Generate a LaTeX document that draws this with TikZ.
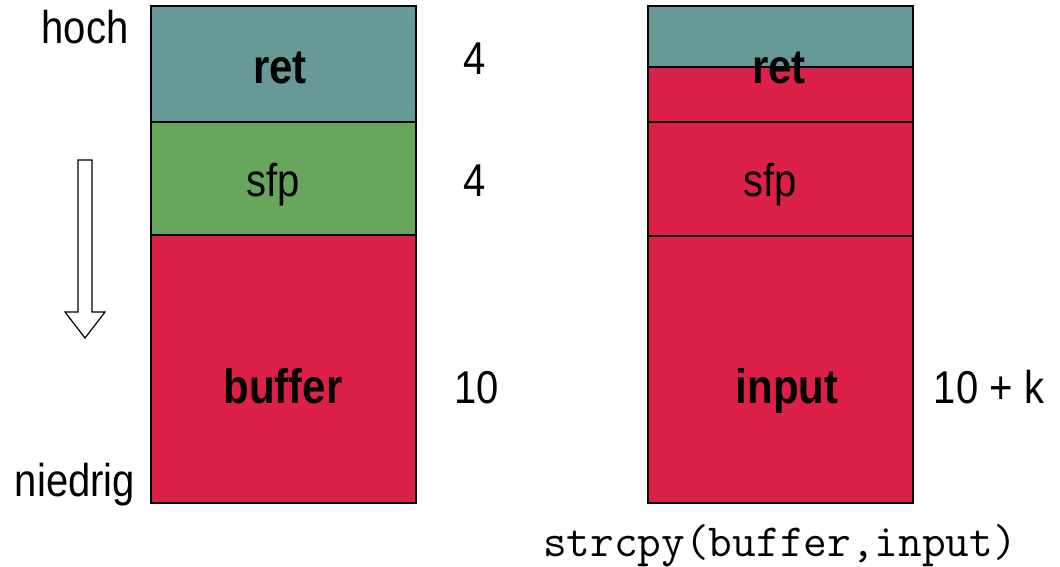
\documentclass[tikz,border=0pt]{standalone}
\usepackage{fontspec}
\setmainfont{Liberation Sans}
\definecolor{tealc}{HTML}{679999}
\definecolor{greenc}{HTML}{68A75B}
\definecolor{redc}{HTML}{DD2048}
\newcommand{\vs}[1]{\scalebox{1}[1.15]{#1}}
\begin{document}
\begin{tikzpicture}[x=1pt,y=-1pt,
  cell/.style={draw=black, line width=1.2pt, minimum width=265pt, inner sep=0pt, outer sep=0pt, anchor=north west},
  lbl/.style={anchor=base, inner sep=0pt, font=\fontsize{40}{48}\selectfont},
  blbl/.style={anchor=base, inner sep=0pt, font=\fontsize{42}{50}\selectfont\bfseries},
  code/.style={anchor=base, inner sep=0pt, font=\fontsize{46}{54}\selectfont\ttfamily}]
\useasboundingbox (0,0) rectangle (1060,566);
% left stack
\node[cell, fill=tealc, minimum height=116pt] (lret) at (151,6) {};
\node[cell, fill=greenc, minimum height=113pt] (lsfp) at (151,122) {};
\node[cell, fill=redc, minimum height=268pt] (lbuf) at (151,235) {};
% right stack
\node[cell, fill=tealc, minimum height=61pt] (rret) at (648,6) {};
\node[cell, fill=redc, minimum height=55pt] (rover) at (648,67) {};
\node[cell, fill=redc, minimum height=114pt] (rsfp) at (648,122) {};
\node[cell, fill=redc, minimum height=267pt] (rin) at (648,236) {};
% labels in cells
\node[blbl] (tlret) at (280,83) {\vs{ret}};
\node[lbl] (tlsfp) at (273,196) {\vs{sfp}};
\node[blbl] (tlbuf) at (283,403) {\vs{buffer}};
\node[blbl] (trret) at (779,83) {\vs{ret}};
\node[lbl] (trsfp) at (770,196) {\vs{sfp}};
\node[blbl] (trin) at (787,403) {\vs{input}};
% sizes
\node[lbl] (n1) at (475,74) {\vs{4}};
\node[lbl] (n2) at (475,196) {\vs{4}};
\node[lbl] (n3) at (477,403) {\vs{10}};
\node[lbl] (n4) at (989,403) {\vs{10 + k}};
% side labels
\node[lbl] (hoch) at (85,43) {\vs{hoch}};
\node[lbl] (nied) at (75,496) {\vs{niedrig}};
\node[code] (cmd) at (780,556) {strcpy(buffer,input)};
% arrow
\draw[line width=1.2pt, fill=white, line join=miter]
  (78,160) -- (92,160) -- (92,312) -- (105,312) -- (85,338) -- (65,312) -- (78,312) -- cycle;
\end{tikzpicture}
\end{document}
